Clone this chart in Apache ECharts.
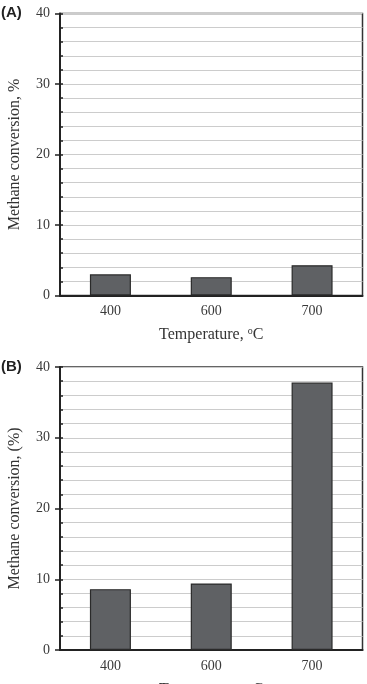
<!DOCTYPE html>
<html><head><meta charset="utf-8">
<script src="https://cdn.jsdelivr.net/npm/echarts@6/dist/echarts.min.js"></script>
<style>html,body{margin:0;padding:0;background:#fff}#c{width:367px;height:684px}</style>
</head><body><div id="c"></div>
<script>
const categories = ['400', '600', '700'];
const valuesA = [3.0, 2.6, 4.3];
const valuesB = [8.6, 9.4, 37.8];
const yTicks = [0, 10, 20, 30, 40];
const panelLabels = ['(A)', '(B)'];
const yNames = ['Methane conversion, %', 'Methane conversion, (%)'];
const xName = 'Temperature, {s|o}C';

const serif = '"Liberation Serif", "DejaVu Serif", serif';
const chart = echarts.init(document.getElementById('c'), null, {renderer: 'canvas'});
const grids = [
  {left: 60, right: 4.5, top: 13.5, height: 282, show: true, borderColor: '#333', borderWidth: 1.5, outerBoundsMode: 'none', containLabel: false},
  {left: 60, right: 4.5, top: 367, height: 283, show: true, borderColor: '#333', borderWidth: 1.5, outerBoundsMode: 'none', containLabel: false}
];
const xAxes = [], yAxes = [], series = [];
[valuesA, valuesB].forEach((vals, i) => {
  xAxes.push({
    type: 'category', gridIndex: i, data: categories,
    axisLine: {lineStyle: {color: '#222', width: 2}},
    axisTick: {show: false},
    axisLabel: {color: '#3a3a3a', fontFamily: serif, fontSize: 14, margin: 9},
    name: xName, nameLocation: 'middle', nameGap: 31,
    nameTextStyle: {color: '#333', fontFamily: serif, fontSize: 16, rich: {s: {fontSize: 10, verticalAlign: 'top', padding: [0, 0, 7, 0], fontFamily: serif, color: '#333'}}}
  });
  yAxes.push({
    type: 'value', gridIndex: i, min: yTicks[0], max: yTicks[yTicks.length - 1], interval: 10,
    position: 'left', offset: 0,
    axisLine: {show: true, lineStyle: {color: '#222', width: 2}},
    axisTick: {show: true, inside: false, length: 5, lineStyle: {color: '#222', width: 1.5}},
    axisLabel: {color: '#3a3a3a', fontFamily: serif, fontSize: 14, margin: 10},
    splitLine: {show: false},
    name: yNames[i], nameLocation: 'middle', nameGap: 37,
    nameTextStyle: {color: '#333', fontFamily: serif, fontSize: 16}
  });
  yAxes.push({
    type: 'value', gridIndex: i, min: yTicks[0], max: yTicks[yTicks.length - 1], interval: 2,
    position: 'left', offset: 0,
    axisLine: {show: false},
    axisTick: {show: true, inside: true, length: 3, lineStyle: {color: '#222', width: 1.5}},
    axisLabel: {show: false},
    splitLine: {show: true, lineStyle: {color: '#cccccc', width: 1}}
  });
  series.push({
    type: 'bar', xAxisIndex: i, yAxisIndex: i * 2, data: vals, barWidth: 41,
    itemStyle: {color: '#5f6164', borderColor: '#2a2a2a', borderWidth: 1.2},
    z: 5
  });
});
chart.setOption({
  animation: false,
  grid: grids,
  xAxis: xAxes,
  yAxis: yAxes,
  series: series,
  graphic: [
    {type: 'text', left: 1, top: 5, style: {text: panelLabels[0], font: 'bold 15px "Liberation Sans", Arial, sans-serif', fill: '#222'}},
    {type: 'text', left: 1, top: 359, style: {text: panelLabels[1], font: 'bold 15px "Liberation Sans", Arial, sans-serif', fill: '#222'}}
  ]
});
</script></body></html>
